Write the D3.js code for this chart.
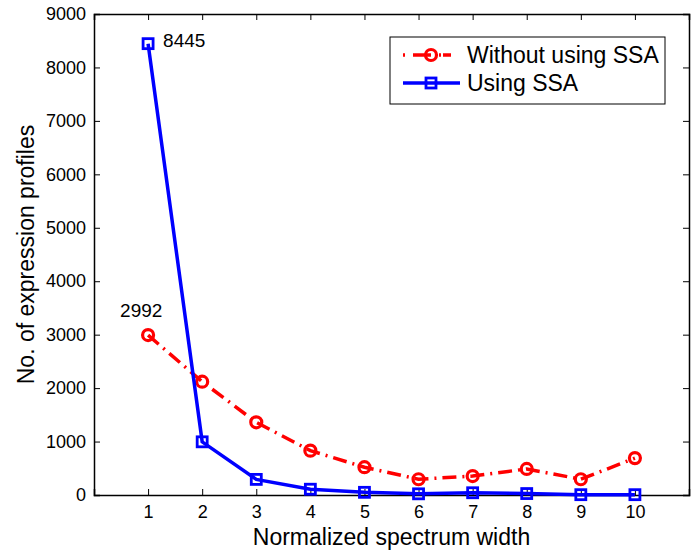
<!DOCTYPE html>
<html>
<head>
<meta charset="utf-8">
<script src="https://cdn.jsdelivr.net/npm/d3@7"></script>
<style>
  body { margin: 0; background: #fff; }
  svg { display: block; font-family: "Liberation Sans", Arial, sans-serif; }
</style>
</head>
<body>
<div id="chart"></div>
<script>
const widths = [1, 2, 3, 4, 5, 6, 7, 8, 9, 10];
const withoutSSA = [2992, 2120, 1360, 830, 520, 295, 355, 487, 295, 690];
const usingSSA = [8445, 995, 292, 108, 50, 22, 42, 27, 6, 6];
const yTicks = [0, 1000, 2000, 3000, 4000, 5000, 6000, 7000, 8000, 9000];
const seriesNames = ['Without using SSA', 'Using SSA'];

const W = 694, H = 550;
const margin = { left: 94, right: 5, top: 14, bottom: 55 };

const svg = d3.select('#chart')
  .append('svg')
  .attr('width', W)
  .attr('height', H);

const x = d3.scaleLinear().domain([0, 11]).range([margin.left, W - margin.right]);
const y = d3.scaleLinear().domain([0, 9000]).range([H - margin.bottom, margin.top]);

const TICK = 6;

function styleAxis(g) {
  g.attr('font-family', null);
  g.selectAll('text').attr('font-size', 18).attr('fill', '#000');
}

// axes with inward ticks on all four sides
svg.append('g')
  .attr('transform', `translate(0,${y(0)})`)
  .call(d3.axisBottom(x).tickValues(widths).tickSize(-TICK).tickPadding(10).tickFormat(d3.format('d')))
  .call(styleAxis);
svg.append('g')
  .attr('transform', `translate(0,${y(9000)})`)
  .call(d3.axisTop(x).tickValues(widths).tickSize(-TICK).tickFormat(''));
svg.append('g')
  .attr('transform', `translate(${x(0)},0)`)
  .call(d3.axisLeft(y).tickValues(yTicks).tickSize(-TICK).tickPadding(8).tickFormat(d3.format('d')))
  .call(styleAxis);
svg.append('g')
  .attr('transform', `translate(${x(11)},0)`)
  .call(d3.axisRight(y).tickValues(yTicks).tickSize(-TICK).tickFormat(''));

svg.selectAll('.domain').attr('stroke', '#000').attr('stroke-width', 1.5);
svg.selectAll('.tick line').attr('stroke', '#000').attr('stroke-width', 1);

// axis titles
svg.append('text')
  .attr('x', (x(0) + x(11)) / 2)
  .attr('y', 545)
  .attr('text-anchor', 'middle')
  .attr('font-size', 23)
  .text('Normalized spectrum width');
svg.append('text')
  .attr('transform', `translate(34,${(y(0) + y(9000)) / 2}) rotate(-90)`)
  .attr('text-anchor', 'middle')
  .attr('font-size', 23)
  .text('No. of expression profiles');

const line = d3.line().x((d, i) => x(widths[i])).y(d => y(d));

// red dash-dot series
svg.append('path')
  .datum(withoutSSA)
  .attr('fill', 'none')
  .attr('stroke', '#ff0000')
  .attr('stroke-width', 3.5)
  .attr('stroke-dasharray', '14,6,2,6')
  .attr('d', line);

svg.append('g')
  .selectAll('circle')
  .data(withoutSSA)
  .join('circle')
  .attr('cx', (d, i) => x(widths[i]))
  .attr('cy', d => y(d))
  .attr('r', 5.5)
  .attr('fill', 'none')
  .attr('stroke', '#ff0000')
  .attr('stroke-width', 3.2);

// blue solid series
svg.append('path')
  .datum(usingSSA)
  .attr('fill', 'none')
  .attr('stroke', '#0000ff')
  .attr('stroke-width', 3.5)
  .attr('d', line);

const SQ = 10;
svg.append('g')
  .selectAll('rect')
  .data(usingSSA)
  .join('rect')
  .attr('x', (d, i) => x(widths[i]) - SQ / 2)
  .attr('y', d => y(d) - SQ / 2)
  .attr('width', SQ)
  .attr('height', SQ)
  .attr('fill', 'none')
  .attr('stroke', '#0000ff')
  .attr('stroke-width', 2.8);

// value annotations
svg.append('text')
  .attr('x', x(widths[0]) + 15)
  .attr('y', y(usingSSA[0]) + 3)
  .attr('font-size', 19)
  .text(usingSSA[0]);
svg.append('text')
  .attr('x', x(widths[0]) - 28)
  .attr('y', y(withoutSSA[0]) - 18)
  .attr('font-size', 19)
  .text(withoutSSA[0]);

// legend
const lg = svg.append('g').attr('transform', 'translate(390,37)');
lg.append('rect')
  .attr('width', 275)
  .attr('height', 67)
  .attr('fill', '#fff')
  .attr('stroke', '#000')
  .attr('stroke-width', 1);

const rows = lg.selectAll('g.row')
  .data(seriesNames)
  .join('g')
  .attr('class', 'row')
  .attr('transform', (d, i) => `translate(0,${18 + i * 28})`);

rows.append('line')
  .attr('x1', 13).attr('x2', 70)
  .attr('stroke', (d, i) => i === 0 ? '#ff0000' : '#0000ff')
  .attr('stroke-width', 3.5)
  .attr('stroke-dasharray', (d, i) => i === 0 ? '2,8,18,8,2' : null);

rows.filter((d, i) => i === 0)
  .append('circle')
  .attr('cx', 41).attr('r', 5.5)
  .attr('fill', 'none').attr('stroke', '#ff0000').attr('stroke-width', 3.2);
rows.filter((d, i) => i === 1)
  .append('rect')
  .attr('x', 41 - SQ / 2).attr('y', -SQ / 2)
  .attr('width', SQ).attr('height', SQ)
  .attr('fill', 'none').attr('stroke', '#0000ff').attr('stroke-width', 2.8);

rows.append('text')
  .attr('x', 77)
  .attr('dy', '0.35em')
  .attr('font-size', 23)
  .text(d => d);
</script>
</body>
</html>
